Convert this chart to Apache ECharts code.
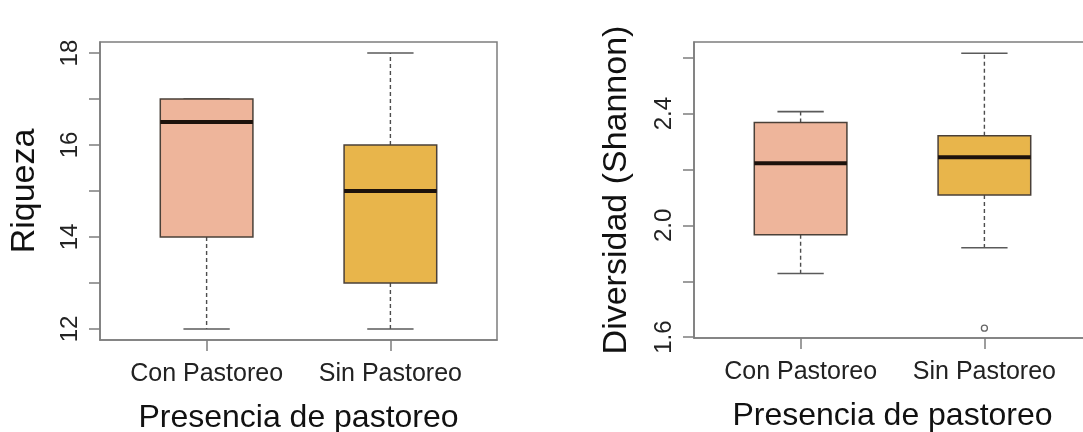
<!DOCTYPE html>
<html>
<head>
<meta charset="utf-8">
<script src="https://cdn.jsdelivr.net/npm/echarts@6/dist/echarts.min.js"></script>
<style>
  html, body { margin: 0; padding: 0; background: #fff; overflow: hidden; }
  #chart { width: 1083px; height: 432px; }
</style>
</head>
<body>
<div id="chart"></div>
<script>
// Grazing groups on the x axis
const categories = ['Con Pastoreo', 'Sin Pastoreo'];

// Five-number summaries per group: [lower whisker, Q1, median, Q3, upper whisker]
const riquezaStats = [
  [12, 14, 16.5, 17, 17],
  [12, 13, 15, 16, 18]
];
const shannonStats = [
  [1.828, 1.966, 2.222, 2.368, 2.407],
  [1.920, 2.109, 2.244, 2.321, 2.616]
];
// Outlying points: [group index, value]
const shannonOutliers = [[1, 1.632]];

// Tick positions and labelled ticks
const riquezaTicks = [12, 13, 14, 15, 16, 17, 18];
const riquezaLabels = [12, 14, 16, 18];
const shannonTicks = [1.6, 1.8, 2.0, 2.2, 2.4, 2.6];
const shannonLabels = [1.6, 2.0, 2.4];

const boxColors = ['#EEB59B', '#E8B54B'];
const FONT = '"Liberation Sans", Arial, sans-serif';
const FRAME = '#7d7d7d';

function toSeriesData(stats) {
  return stats.map((s, i) => [i + 1].concat(s));
}

// Draws one R-style boxplot: dashed whiskers, solid caps, filled box, heavy median
function renderBox(params, api) {
  const x = api.value(0);
  const lo = api.value(1), q1 = api.value(2), med = api.value(3), q3 = api.value(4), hi = api.value(5);
  const unit = api.size([1, 0])[0];
  const half = unit * 0.252;
  const capHalf = unit * 0.126;
  const pLo = api.coord([x, lo]);
  const pQ1 = api.coord([x, q1]);
  const pMed = api.coord([x, med]);
  const pQ3 = api.coord([x, q3]);
  const pHi = api.coord([x, hi]);
  const cx = pLo[0];
  const whiskerStyle = { stroke: '#4d4d4d', lineWidth: 1.4, lineDash: [4, 3] };
  const capStyle = { stroke: '#5a5a5a', lineWidth: 1.6 };
  return {
    type: 'group',
    children: [
      { type: 'line', shape: { x1: cx, y1: pQ1[1], x2: cx, y2: pLo[1] }, style: whiskerStyle },
      { type: 'line', shape: { x1: cx, y1: pQ3[1], x2: cx, y2: pHi[1] }, style: whiskerStyle },
      { type: 'line', shape: { x1: cx - capHalf, y1: pLo[1], x2: cx + capHalf, y2: pLo[1] }, style: capStyle },
      { type: 'line', shape: { x1: cx - capHalf, y1: pHi[1], x2: cx + capHalf, y2: pHi[1] }, style: capStyle },
      {
        type: 'rect',
        shape: { x: cx - half, y: pQ3[1], width: half * 2, height: pQ1[1] - pQ3[1] },
        style: { fill: boxColors[params.dataIndex], stroke: '#4a4038', lineWidth: 1.5 }
      },
      { type: 'line', shape: { x1: cx - half, y1: pMed[1], x2: cx + half, y2: pMed[1] },
        style: { stroke: '#1c120c', lineWidth: 4 } }
    ]
  };
}

function xAxisFor(gridIndex) {
  return {
    type: 'value', gridIndex: gridIndex, min: 0.42, max: 2.58,
    name: 'Presencia de pastoreo', nameLocation: 'middle', nameGap: 62,
    nameTextStyle: { fontFamily: FONT, fontSize: 32, color: '#111' },
    splitLine: { show: false },
    axisLine: { show: true, lineStyle: { color: FRAME, width: 1.5 } },
    axisTick: { show: true, length: 11, customValues: [1, 2], lineStyle: { color: FRAME, width: 1.5 } },
    axisLabel: {
      customValues: [1, 2], margin: 22,
      formatter: v => categories[Math.round(v) - 1],
      fontFamily: FONT, fontSize: 25, color: '#222'
    }
  };
}

function yAxisFor(gridIndex, min, max, name, ticks, labels, gap, digits) {
  return {
    type: 'value', gridIndex: gridIndex, min: min, max: max,
    name: name, nameLocation: 'middle', nameGap: gap, nameRotate: 90,
    nameTextStyle: { fontFamily: FONT, fontSize: 34, color: '#111' },
    splitLine: { show: false },
    axisLine: { show: true, lineStyle: { color: FRAME, width: 1.5 } },
    axisTick: { show: true, length: 11, customValues: ticks, lineStyle: { color: FRAME, width: 1.5 } },
    axisLabel: {
      customValues: labels, rotate: 90, margin: 18,
      formatter: v => Number(v).toFixed(digits),
      fontFamily: FONT, fontSize: 24, color: '#222'
    }
  };
}

const chart = echarts.init(document.getElementById('chart'), null, { renderer: 'canvas' });
chart.setOption({
  backgroundColor: '#ffffff',
  animation: false,
  grid: [
    { left: 100, top: 42, width: 397, height: 298, show: true, borderColor: FRAME, borderWidth: 1.5,
      backgroundColor: 'transparent', outerBoundsMode: 'none', containLabel: false },
    { left: 694, top: 42, width: 397, height: 296, show: true, borderColor: FRAME, borderWidth: 1.5,
      backgroundColor: 'transparent', outerBoundsMode: 'none', containLabel: false }
  ],
  xAxis: [xAxisFor(0), xAxisFor(1)],
  yAxis: [
    yAxisFor(0, 11.76, 18.24, 'Riqueza', riquezaTicks, riquezaLabels, 58, 0),
    yAxisFor(1, 1.597, 2.656, 'Diversidad (Shannon)', shannonTicks, shannonLabels, 60, 1)
  ],
  series: [
    {
      type: 'custom', xAxisIndex: 0, yAxisIndex: 0,
      data: toSeriesData(riquezaStats),
      encode: { x: 0, y: [1, 2, 3, 4, 5] },
      renderItem: renderBox
    },
    {
      type: 'custom', xAxisIndex: 1, yAxisIndex: 1,
      data: toSeriesData(shannonStats),
      encode: { x: 0, y: [1, 2, 3, 4, 5] },
      renderItem: renderBox
    },
    {
      type: 'scatter', xAxisIndex: 1, yAxisIndex: 1,
      data: shannonOutliers.map(o => [o[0] + 1, o[1]]),
      symbol: 'circle', symbolSize: 6, z: 5,
      itemStyle: { color: '#ffffff', borderColor: '#666666', borderWidth: 1.3, opacity: 1 }
    }
  ]
});
</script>
</body>
</html>
